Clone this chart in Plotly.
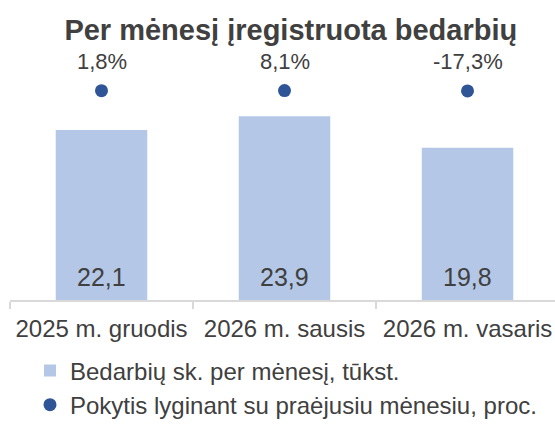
import plotly.graph_objects as go

# Duomenys
months = ['2025 m. gruodis', '2026 m. sausis', '2026 m. vasaris']
unemployed = [22.1, 23.9, 19.8]
change_pct = [1.8, 8.1, -17.3]

bar_name = 'Bedarbių sk. per mėnesį, tūkst.'
dot_name = 'Pokytis lyginant su praėjusiu mėnesiu, proc.'

TXT = '#404040'
FONT = 'Liberation Sans, Arial, sans-serif'


def lt(v, fmt='{:.1f}'):
    return fmt.format(v).replace('.', ',')


fig = go.Figure()

fig.add_trace(go.Bar(
    x=months, y=unemployed,
    name=bar_name,
    marker=dict(color='#B4C7E7', line=dict(width=0)),
    width=0.5,
    hoverinfo='skip'
))

fig.add_trace(go.Scatter(
    x=months, y=change_pct,
    name=dot_name,
    mode='markers',
    marker=dict(color='#2F5597', size=13),
    xaxis='x', yaxis='y2',
    hoverinfo='skip'
))

# reikšmės stulpelių apačioje
for m, v in zip(months, unemployed):
    fig.add_annotation(
        x=m, y=0, xref='x', yref='y',
        text=lt(v), showarrow=False,
        yanchor='middle', yshift=23,
        font=dict(size=25, color=TXT, family=FONT)
    )

# procentų etiketės virš taškų
for m, p in zip(months, change_pct):
    fig.add_annotation(
        x=m, y=p, xref='x', yref='y2',
        text=lt(p) + '%',
        showarrow=False, yshift=29,
        font=dict(size=22, color=TXT, family=FONT)
    )

fig.update_layout(
    width=555, height=428,
    margin=dict(l=10, r=0, t=40, b=128),
    paper_bgcolor='white', plot_bgcolor='white',
    font=dict(family=FONT, color=TXT),
    title=dict(
        text='<b>Per mėnesį įregistruota bedarbių</b>',
        x=0.524, xanchor='center', y=0.93, yanchor='middle',
        font=dict(size=29, color=TXT, family=FONT)
    ),
    xaxis=dict(
        type='category',
        categoryorder='array', categoryarray=months,
        range=[-0.5, 2.478],
        showline=True, linecolor='#D9D9D9', linewidth=1.5,
        ticks='outside', tickson='boundaries', ticklen=7, tickcolor='#D9D9D9', tickwidth=1.5,
        tickfont=dict(size=24, color=TXT, family=FONT),
        ticklabelstandoff=6,
        tickangle=0, automargin=False,
        showgrid=False, zeroline=False
    ),
    yaxis=dict(range=[0, 33.8], visible=False, showgrid=False, zeroline=False),
    yaxis2=dict(range=[-16100, 3900], overlaying='y', anchor='x', side='right',
                visible=False, showgrid=False, zeroline=False),
    showlegend=True,
    legend=dict(
        orientation='v',
        x=0.0367, xanchor='left', y=-0.49, yanchor='bottom',
        font=dict(size=24, color=TXT, family=FONT),
        tracegroupgap=0
    ),
    bargap=0.5
)

fig.write_html('out.html', config={'displayModeBar': False},
               post_script="document.body.style.margin='0';")
